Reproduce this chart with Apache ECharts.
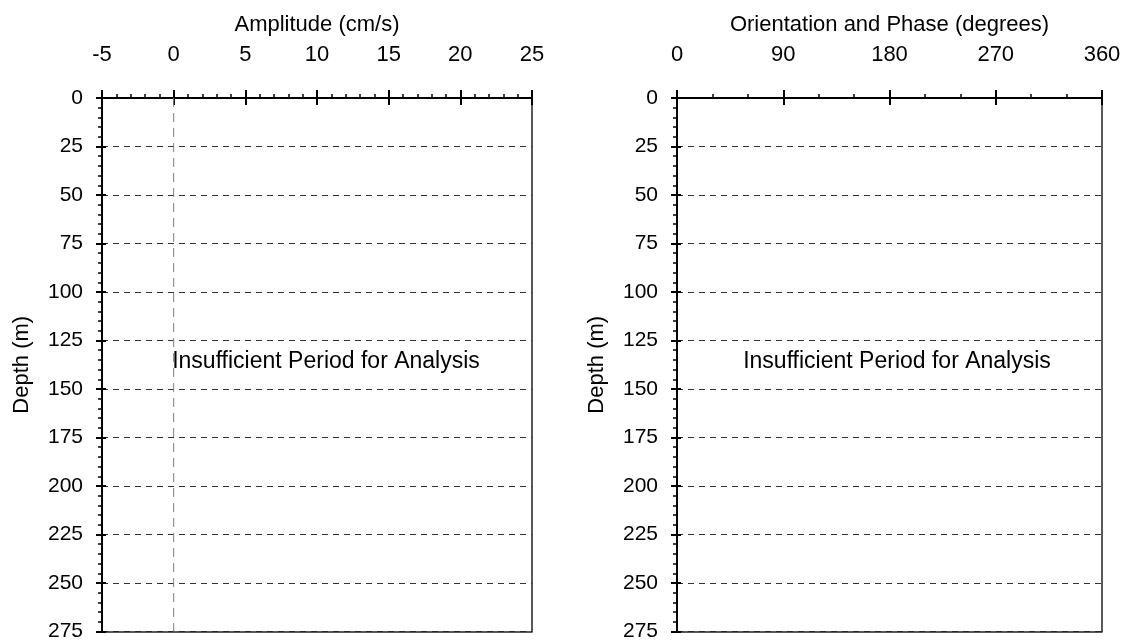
<!DOCTYPE html>
<html>
<head>
<meta charset="utf-8">
<script src="https://cdn.jsdelivr.net/npm/echarts@6/dist/echarts.min.js"></script>
<style>
html,body{margin:0;padding:0;background:#fff;}
#chart{width:1132px;height:642px;}
</style>
</head>
<body>
<div id="chart"></div>
<script>
// ---- data ----
var depthRange = [0, 275];
var depthStep = 25;
var amplitudeRange = [-5, 25];
var amplitudeStep = 5;
var orientationRange = [0, 360];
var orientationStep = 90;
var zeroLine = [[0, 0], [0, 275]];
var amplitudeTitle = 'Amplitude (cm/s)';
var orientationTitle = 'Orientation and Phase (degrees)';
var depthTitle = 'Depth (m)';
var message = 'Insufficient Period for Analysis';

var FONT = '"Liberation Sans", Arial, sans-serif';
var chart = echarts.init(document.getElementById('chart'));

function topAxis(gridIndex, range, step, minorSplit, name) {
  return [
    {
      type: 'value', gridIndex: gridIndex, position: 'top',
      min: range[0], max: range[1], interval: step,
      name: name, nameLocation: 'middle', nameGap: 62,
      nameTextStyle: { color: '#000', fontSize: 22, fontFamily: FONT },
      axisLine: { show: true, onZero: false, lineStyle: { color: '#000', width: 2 } },
      axisTick: { show: true, inside: false, length: 8, lineStyle: { color: '#000', width: 2 } },
      minorTick: { show: true, splitNumber: minorSplit, length: 4, lineStyle: { color: '#000', width: 1.5 } },
      axisLabel: { show: true, margin: 32, color: '#000', fontSize: 22, fontFamily: FONT },
      splitLine: { show: false }
    },
    {
      type: 'value', gridIndex: gridIndex, position: 'top',
      min: range[0], max: range[1], interval: step,
      axisLine: { show: false, onZero: false },
      axisTick: { show: true, inside: true, length: 7, lineStyle: { color: '#000', width: 2 } },
      axisLabel: { show: false }, splitLine: { show: false }
    },
    {
      type: 'value', gridIndex: gridIndex, position: 'bottom',
      min: range[0], max: range[1], interval: step,
      axisLine: { show: true, onZero: false, lineStyle: { color: '#222', width: 1.5 } },
      axisTick: { show: false }, axisLabel: { show: false }, splitLine: { show: false }
    }
  ];
}

function depthAxes(gridIndex) {
  return [
    {
      type: 'value', gridIndex: gridIndex, position: 'left', inverse: true,
      min: depthRange[0], max: depthRange[1], interval: depthStep,
      name: depthTitle, nameLocation: 'middle', nameGap: 69,
      nameTextStyle: { color: '#000', fontSize: 22, fontFamily: FONT },
      axisLine: { show: true, onZero: false, lineStyle: { color: '#000', width: 2 } },
      axisTick: { show: true, inside: false, length: 6, lineStyle: { color: '#000', width: 2 } },
      minorTick: { show: true, splitNumber: 5, length: 4, lineStyle: { color: '#000', width: 1.5 } },
      axisLabel: { show: true, margin: 19, color: '#000', fontSize: 21, fontFamily: FONT },
      splitLine: { show: true, lineStyle: { color: '#333', width: 1, type: [6, 5] } }
    },
    {
      type: 'value', gridIndex: gridIndex, position: 'left', inverse: true,
      min: depthRange[0], max: depthRange[1], interval: depthStep,
      axisLine: { show: false, onZero: false },
      axisTick: { show: true, inside: true, length: 4, lineStyle: { color: '#000', width: 2 } },
      axisLabel: { show: false }, splitLine: { show: false }
    },
    {
      type: 'value', gridIndex: gridIndex, position: 'right', inverse: true,
      min: depthRange[0], max: depthRange[1], interval: depthStep,
      axisLine: { show: true, onZero: false, lineStyle: { color: '#222', width: 1.5 } },
      axisTick: { show: false }, axisLabel: { show: false }, splitLine: { show: false }
    }
  ];
}

var xAxes = topAxis(0, amplitudeRange, amplitudeStep, 5, amplitudeTitle)
  .concat(topAxis(1, orientationRange, orientationStep, 3, orientationTitle));
var yAxes = depthAxes(0).concat(depthAxes(1));

chart.setOption({
  animation: false,
  backgroundColor: '#fff',
  grid: [
    { left: 102, top: 98, width: 430, height: 534 },
    { left: 677, top: 98, width: 425, height: 534 }
  ],
  xAxis: xAxes,
  yAxis: yAxes,
  series: [
    {
      type: 'line', xAxisIndex: 0, yAxisIndex: 0, data: zeroLine,
      symbol: 'none', silent: true,
      lineStyle: { color: '#7f7f7f', width: 1, type: [9, 6] }
    },
    { type: 'scatter', xAxisIndex: 3, yAxisIndex: 3, data: [] }
  ],
  graphic: [
    { type: 'text', x: 326, y: 362, style: { text: message, fill: '#000', font: '23px ' + FONT, textAlign: 'center', textVerticalAlign: 'middle' } },
    { type: 'text', x: 897, y: 362, style: { text: message, fill: '#000', font: '23px ' + FONT, textAlign: 'center', textVerticalAlign: 'middle' } }
  ]
});
</script>
</body>
</html>
